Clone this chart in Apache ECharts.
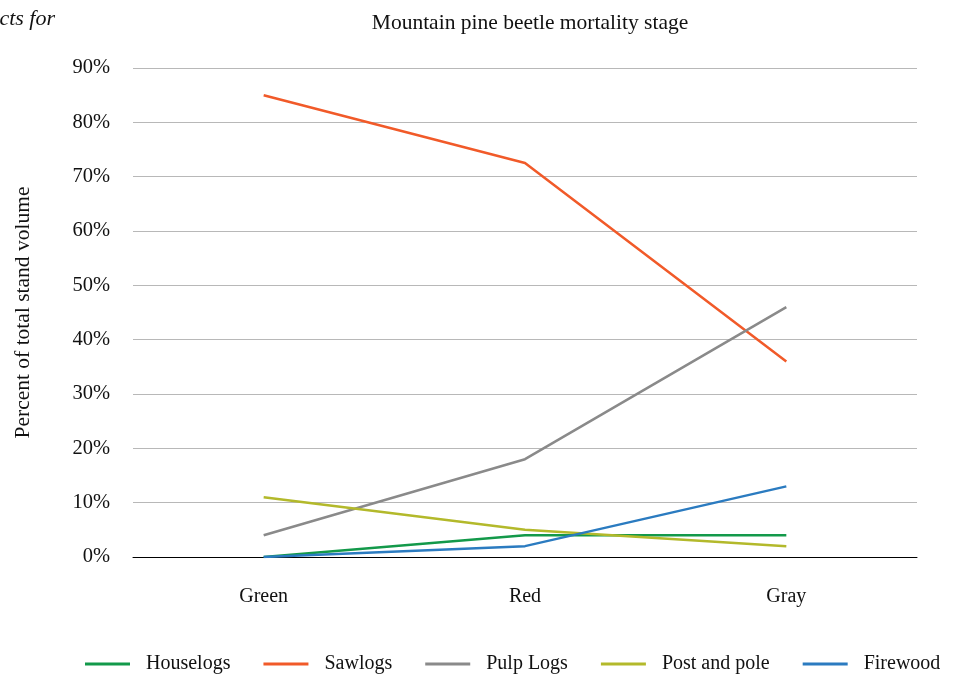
<!DOCTYPE html>
<html>
<head>
<meta charset="utf-8">
<script src="https://cdn.jsdelivr.net/npm/echarts@6/dist/echarts.min.js"></script>
<style>html,body{margin:0;padding:0;background:#fff}#c{width:956px;height:677px}</style>
</head>
<body>
<div id="c"></div>
<script>
const categories = ["Green", "Red", "Gray"];
const houselogs = [0, 4, 4];
const sawlogs = [85, 72.5, 36];
const pulpLogs = [4, 18, 46];
const postAndPole = [11, 5, 2];
const firewood = [0, 2, 13];
const seriesNames = ["Houselogs", "Sawlogs", "Pulp Logs", "Post and pole", "Firewood"];
const seriesColors = ["#13994a", "#f15a29", "#8a8a8a", "#b3b92b", "#2b7bc0"];
const seriesData = [houselogs, sawlogs, pulpLogs, postAndPole, firewood];

const font = "'Liberation Serif', 'DejaVu Serif', serif";
const chart = echarts.init(document.getElementById('c'));
chart.setOption({
  animation: false,
  backgroundColor: '#fff',
  color: seriesColors,
  title: {
    text: 'Mountain pine beetle mortality stage',
    left: 525, top: 7, textAlign: 'center',
    textStyle: { fontFamily: font, fontSize: 21.5, fontWeight: 'normal', color: '#111' }
  },
  graphic: [{
    type: 'text', right: 901, top: 8,
    style: { text: 'cts for', font: 'italic 22px ' + font, fill: '#111' }
  }],
  grid: { left: 133, right: 39, top: 68, bottom: 120 },
  legend: {
    left: 85, top: 654, width: 880, padding: 0, itemGap: 33, itemWidth: 45, itemHeight: 3, icon: 'rect',
    textStyle: { fontFamily: font, fontSize: 20, color: '#111', padding: [0, 0, 0, 11] },
    data: seriesNames
  },
  xAxis: {
    type: 'category', data: categories, boundaryGap: true,
    axisLine: { lineStyle: { color: '#000', width: 1 } },
    axisTick: { show: false },
    axisLabel: { margin: 30, fontFamily: font, fontSize: 20, color: '#111' }
  },
  yAxis: {
    type: 'value', min: 0, max: 90, interval: 10,
    name: 'Percent of total stand volume', nameLocation: 'middle', nameGap: 99,
    nameTextStyle: { fontFamily: font, fontSize: 21.5, color: '#111' },
    axisLine: { show: false }, axisTick: { show: false },
    axisLabel: { margin: 23, fontFamily: font, fontSize: 20.5, color: '#111', formatter: '{value}%' },
    splitLine: { lineStyle: { color: '#b8b8b8', width: 1 } }
  },
  series: seriesNames.map((n, i) => ({
    name: n, type: 'line', data: seriesData[i], showSymbol: false, symbol: 'none',
    lineStyle: { width: 2.5, color: seriesColors[i] }, itemStyle: { color: seriesColors[i] }
  }))
});
</script>
</body>
</html>
